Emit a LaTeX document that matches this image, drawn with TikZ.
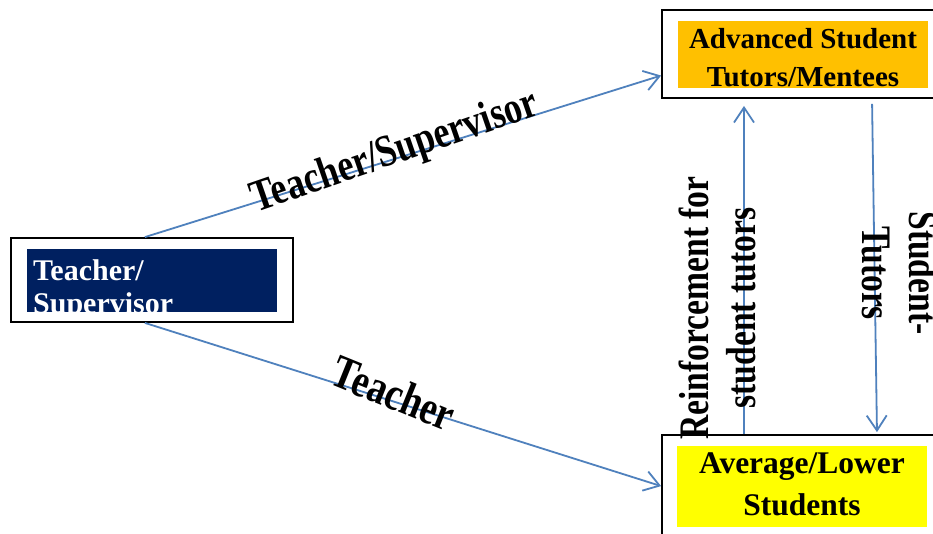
\documentclass[tikz,border=0pt]{standalone}
\usepackage{fontspec}
\setmainfont{Liberation Serif}
\newfontfamily\lblfont[FakeStretch=0.8]{Liberation Serif}
\usetikzlibrary{arrows.meta,calc}
\definecolor{navy}{HTML}{002060}
\definecolor{gold}{HTML}{FFC000}
\definecolor{yel}{HTML}{FFFF00}
\definecolor{arrowblue}{HTML}{4F81BD}
\tikzset{
 outerbox/.style={draw=black,line width=1.8pt,inner sep=0pt},
 flow/.style={draw=arrowblue,line width=1.8pt,-{Straight Barb[length=15pt,width=20pt]}},
 lbl/.style={font=\lblfont\bfseries\fontsize{42}{47}\selectfont,align=center,inner sep=0pt}
}
\begin{document}
\begin{tikzpicture}[x=1pt,y=-1pt]
 \clip (0,0) rectangle (933,534);
 \fill[white] (0,0) rectangle (933,534);
 % boxes
 \node[outerbox,minimum width=282pt,minimum height=84pt] (lt) at (152,280) {};
 \node[outerbox,minimum width=283pt,minimum height=88pt] (adv) at (803.5,54) {};
 \node[outerbox,minimum width=283pt,minimum height=125pt] (avg) at (803.5,497.5) {};
 \begin{scope}
  \clip (27,249) rectangle (277,312);
  \fill[navy] (27,249) rectangle (277,312);
  \node[anchor=north west,inner sep=0pt,align=left,text=white,font=\bfseries\fontsize{30}{33}\selectfont] (lttxt) at (33,259) {Teacher/\\Supervisor};
 \end{scope}
 \fill[gold] (678,21) rectangle (928,88);
 \node[anchor=north,inner sep=0pt,align=center,font=\bfseries\fontsize{29}{38}\selectfont] (advtxt) at (803,28) {Advanced Student\\Tutors/Mentees};
 \fill[yel] (677,446) rectangle (927,527);
 \node[anchor=north,inner sep=0pt,align=center,font=\bfseries\fontsize{31.5}{42}\selectfont] (avgtxt) at (802,453) {Average/Lower\\Students};
 % connectors
 \coordinate (upx) at (744,0);
 \coordinate (dtop) at (872,0);
 \coordinate (dbot) at (877,0);
 \draw[flow] ($(lt.north west)!0.475!(lt.north east)$) -- ($(adv.north west)!0.74!(adv.south west)$);
 \draw[flow] ($(lt.south west)!0.475!(lt.south east)$) -- ($(avg.north west)+(0,52)$);
 \draw[flow,shorten >=7pt] (avg.north -| upx) -- (adv.south -| upx);
 \draw[flow,shorten <=5pt,shorten >=2pt] (adv.south -| dtop) -- (avg.north -| dbot);
 % labels
 \node[lbl,rotate=19,font=\lblfont\bfseries\fontsize{45}{50}\selectfont] (tslbl) at (395,153) {Teacher/Supervisor};
 \node[lbl,rotate=-22,font=\lblfont\bfseries\fontsize{47}{52}\selectfont] (tlbl) at (394,393) {Teacher};
 \node[lbl,rotate=90] (rflbl) at (717,308) {Reinforcement for\\student tutors};
 \node[lbl,rotate=-90] (stlbl) at (900,273) {Student-\\Tutors};
\end{tikzpicture}
\end{document}
